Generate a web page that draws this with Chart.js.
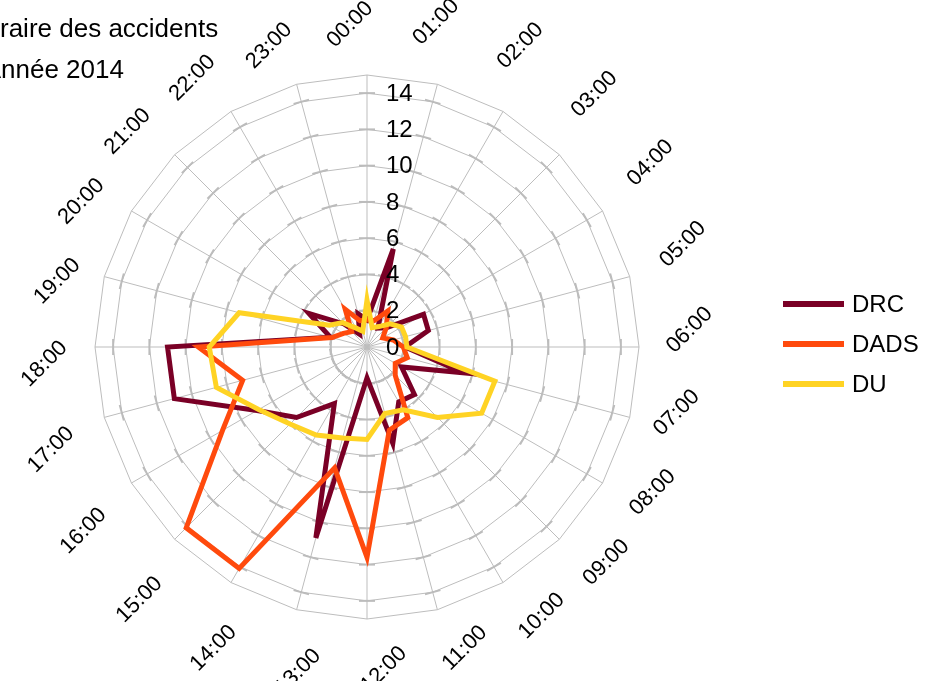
<!DOCTYPE html>
<html>
<head>
<meta charset="utf-8">
<script src="https://cdn.jsdelivr.net/npm/chart.js@4.4.0/dist/chart.umd.min.js"></script>
<style>
  html, body { margin: 0; padding: 0; background: #ffffff; overflow: hidden; }
  #wrap { width: 934px; height: 681px; }
</style>
</head>
<body>
<div id="wrap"><canvas id="chart" width="934" height="681"></canvas></div>
<script>
// Hour of day (clockwise from the top)
const hours = ['00:00','01:00','02:00','03:00','04:00','05:00','06:00','07:00','08:00','09:00','10:00','11:00',
               '12:00','13:00','14:00','15:00','16:00','17:00','18:00','19:00','20:00','21:00','22:00','23:00'];

// Accidents per hour, one array per department
const drc  = [1.5, 5.6, 1.2, 1.5, 3.6, 3.5, 2.1, 5.5, 2.2, 3.7, 3.5, 5.5, 1.7, 10.9, 3.6, 5.5, 7.0, 11.0, 11.0, 2.1, 3.7, 1.8, 0.8, 1.9];
const dads = [1.5, 1.5, 2.3, 1.5, 1.0, 1.5, 2.0, 2.3, 1.8, 2.2, 4.5, 4.75, 11.6, 6.9, 14.1, 14.1, 9.2, 7.1, 9.3, 2.0, 1.5, 1.2, 2.4, 1.5];
const du   = [2.6, 1.1, 1.3, 1.8, 2.2, 2.2, 2.2, 7.3, 7.3, 5.5, 4.0, 3.8, 5.1, 5.2, 5.6, 6.0, 6.9, 8.6, 8.7, 7.3, 2.4, 1.9, 1.2, 0.9];

const seriesNames  = ['DRC', 'DADS', 'DU'];
const seriesColors = ['#7a0026', '#ff4a0d', '#ffd324'];

// Radial axis labels and title text
const radialTicks = [0, 2, 4, 6, 8, 10, 12, 14];
const titleLines  = ['Horaire des accidents', 'Année 2014'];

const FONT = '"Liberation Sans", Arial, sans-serif';

// Title, upper-left corner
const titlePlugin = {
  id: 'cornerTitle',
  afterDraw(chart) {
    const ctx = chart.ctx;
    ctx.save();
    ctx.font = '26px ' + FONT;
    ctx.fillStyle = '#000';
    ctx.textBaseline = 'alphabetic';
    ctx.textAlign = 'left';
    const off1 = ctx.measureText('Ho').width;
    const off2 = ctx.measureText('A').width;
    ctx.fillText(titleLines[0], -off1, 37);
    ctx.fillText(titleLines[1], 1 - off2, 78);
    ctx.restore();
  }
};

// Short tick marks where each value ring crosses a spoke
const ringTickPlugin = {
  id: 'ringTicks',
  beforeDatasetsDraw(chart) {
    const scale = chart.scales.r;
    const ctx = chart.ctx;
    ctx.save();
    ctx.strokeStyle = '#bcbcbc';
    ctx.lineWidth = 2;
    const half = 8;
    radialTicks.forEach(v => {
      if (v === 0) return;
      const dist = scale.getDistanceFromCenterForValue(v);
      hours.forEach((_, i) => {
        const p = scale.getPointPosition(i, dist);
        const tx = -Math.sin(p.angle), ty = Math.cos(p.angle);
        ctx.beginPath();
        ctx.moveTo(p.x - tx * half, p.y - ty * half);
        ctx.lineTo(p.x + tx * half, p.y + ty * half);
        ctx.stroke();
      });
    });
    ctx.restore();
  }
};

// Hour labels, rotated 45 degrees, placed just outside the outer ring
const hourLabelPlugin = {
  id: 'hourLabels',
  afterDraw(chart) {
    const scale = chart.scales.r;
    const ctx = chart.ctx;
    ctx.save();
    ctx.font = '22px ' + FONT;
    ctx.fillStyle = '#000';
    ctx.textAlign = 'center';
    ctx.textBaseline = 'middle';
    const rot = -Math.PI / 4;
    const d1 = { x: Math.cos(rot), y: Math.sin(rot) };
    const d2 = { x: -Math.sin(rot), y: Math.cos(rot) };
    const halfW = 58, halfH = 40;
    const shift = -3 * Math.PI / 180;
    hours.forEach((label, i) => {
      const base = scale.getPointPosition(i, 100);
      const ux = (base.x - scale.xCenter) / 100;
      const uy = (base.y - scale.yCenter) / 100;
      const ext = Math.max(halfW * Math.abs(ux * d1.x + uy * d1.y), halfH * Math.abs(ux * d2.x + uy * d2.y));
      const p = scale.getPointPosition(i, scale.drawingArea + 10 + ext, shift);
      ctx.save();
      ctx.translate(p.x, p.y);
      ctx.rotate(rot);
      ctx.fillText(label, 0, 0);
      ctx.restore();
    });
    ctx.restore();
  }
};

// Value labels along the 00:00 spoke, drawn over the series lines
const radialTickPlugin = {
  id: 'radialTickLabels',
  afterDatasetsDraw(chart) {
    const scale = chart.scales.r;
    const ctx = chart.ctx;
    ctx.save();
    ctx.font = '24px ' + FONT;
    ctx.fillStyle = '#000';
    ctx.textAlign = 'left';
    ctx.textBaseline = 'middle';
    radialTicks.forEach(v => {
      const y = scale.yCenter - scale.getDistanceFromCenterForValue(v);
      ctx.fillText(String(v), scale.xCenter + 19, y + 1);
    });
    ctx.restore();
  }
};

// Line-sample legend on the right
const legendPlugin = {
  id: 'lineLegend',
  afterDraw(chart) {
    const ctx = chart.ctx;
    ctx.save();
    ctx.font = '24px ' + FONT;
    ctx.textAlign = 'left';
    ctx.textBaseline = 'middle';
    chart.data.datasets.forEach((ds, i) => {
      const y = 304 + i * 40;
      ctx.strokeStyle = ds.borderColor;
      ctx.lineWidth = 6;
      ctx.beginPath();
      ctx.moveTo(783, y);
      ctx.lineTo(844, y);
      ctx.stroke();
      ctx.fillStyle = '#000';
      ctx.fillText(ds.label, 852, y + 1);
    });
    ctx.restore();
  }
};

const datasets = [drc, dads, du].map((values, i) => ({
  label: seriesNames[i],
  data: values,
  borderColor: seriesColors[i],
  backgroundColor: seriesColors[i],
  borderWidth: 5,
  fill: false,
  pointRadius: 0,
  pointHoverRadius: 0,
  tension: 0,
  order: 3 - i
}));

new Chart(document.getElementById('chart'), {
  type: 'radar',
  data: { labels: hours, datasets },
  options: {
    responsive: false,
    animation: false,
    devicePixelRatio: 1,
    layout: { padding: { left: 95, right: 295, top: 75, bottom: 62 } },
    plugins: {
      legend: { display: false },
      title: { display: false },
      tooltip: { enabled: false }
    },
    scales: {
      r: {
        min: 0,
        max: 15,
        startAngle: 0,
        ticks: { stepSize: 2, display: false },
        grid: { color: '#bdbdbd', lineWidth: 1 },
        angleLines: { color: '#bdbdbd', lineWidth: 1 },
        pointLabels: { display: false }
      }
    }
  },
  plugins: [titlePlugin, ringTickPlugin, hourLabelPlugin, radialTickPlugin, legendPlugin]
});
</script>
</body>
</html>
